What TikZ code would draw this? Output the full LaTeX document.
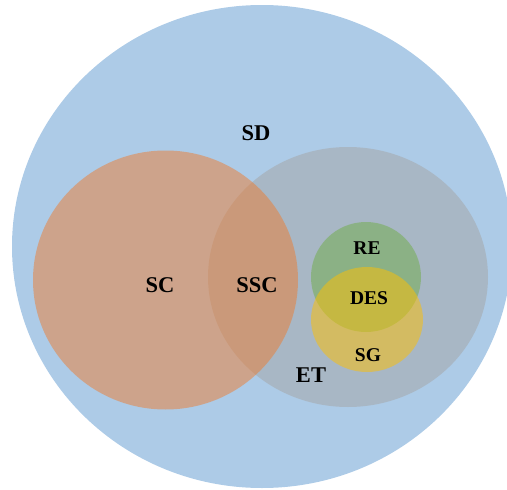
\documentclass[tikz,border=0pt]{standalone}
\usepackage{fontspec}
\setmainfont{Liberation Serif}
\definecolor{setblue}{RGB}{173,203,231}
\definecolor{setgray}{RGB}{165,165,165}
\definecolor{setorange}{RGB}{237,125,49}
\definecolor{setgreen}{RGB}{112,173,71}
\definecolor{setyellow}{RGB}{255,192,0}
\begin{document}
\begin{tikzpicture}[x=1pt,y=-1pt,
  region/.style={fill opacity=0.5, draw=none},
  biglabel/.style={font=\bfseries\fontsize{22.5}{22.5}\selectfont, text=black},
  smalllabel/.style={font=\bfseries\fontsize{19.5}{19.5}\selectfont, text=black}]
  \useasboundingbox (0,0) rectangle (507,490);
  % outer set
  \fill[setblue] (262,246.5) ellipse [x radius=250, y radius=241.5];
  % inner sets
  \fill[region, setgray] (348,277) ellipse [x radius=140, y radius=130];
  \fill[region, setorange] (165.5,280) ellipse [x radius=132.5, y radius=129.5];
  \fill[region, setgreen] (366,277) ellipse [x radius=55, y radius=55];
  \fill[region, setyellow] (367,319.5) ellipse [x radius=56, y radius=52.5];
  % labels
  \node[biglabel] (sd) at (256,133) {SD};
  \node[biglabel] (sc) at (160,285) {SC};
  \node[biglabel] (ssc) at (257,285) {SSC};
  \node[biglabel] (et) at (311,375) {ET};
  \node[smalllabel] (re) at (367,248) {RE};
  \node[smalllabel] (des) at (369,298) {DES};
  \node[smalllabel] (sg) at (368,355) {SG};
\end{tikzpicture}
\end{document}
